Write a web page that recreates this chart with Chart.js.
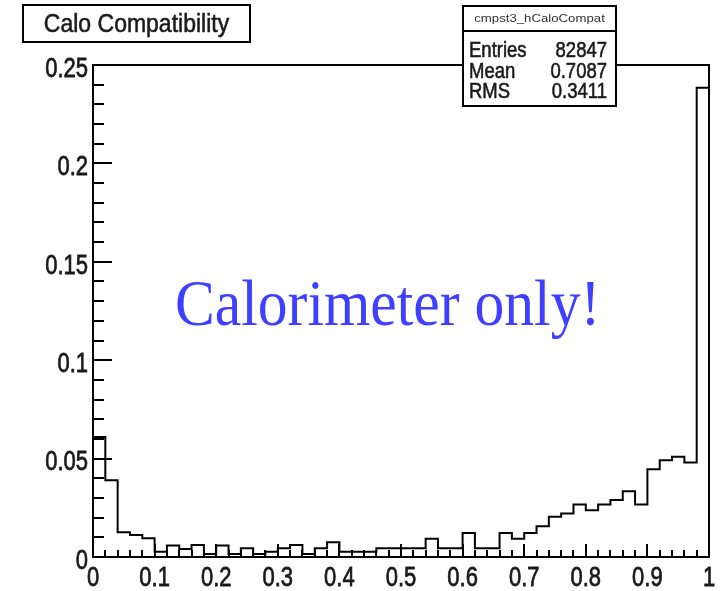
<!DOCTYPE html>
<html>
<head>
<meta charset="utf-8">
<script src="https://cdn.jsdelivr.net/npm/chart.js@4/dist/chart.umd.min.js"></script>
<style>
  html, body { margin: 0; padding: 0; background: #ffffff; }
  canvas { display: block; }
</style>
</head>
<body>
<canvas id="hist" width="724" height="591"></canvas>
<script>
// Histogram contents: 50 equal bins on [0, 1], bin fractions
const binValues = [
  0.0610, 0.0390, 0.0126, 0.0112, 0.0095, 0.0027, 0.0058, 0.0041, 0.0061, 0.0015,
  0.0058, 0.0015, 0.0044, 0.0015, 0.0027, 0.0044, 0.0061, 0.0015, 0.0044, 0.0075,
  0.0027, 0.0027, 0.0027, 0.0044, 0.0044, 0.0044, 0.0044, 0.0093, 0.0044, 0.0044,
  0.0122, 0.0044, 0.0044, 0.0122, 0.0093, 0.0122, 0.0156, 0.0204, 0.0221, 0.0267,
  0.0238, 0.0267, 0.0289, 0.0334, 0.0267, 0.0446, 0.0492, 0.0509, 0.0480, 0.2385
];
const xMin = 0;
const xMax = 1;
const yMin = 0;
const yMax = 0.25;

const xTickValues = [0, 0.1, 0.2, 0.3, 0.4, 0.5, 0.6, 0.7, 0.8, 0.9, 1];
const xTickLabels = ['0', '0.1', '0.2', '0.3', '0.4', '0.5', '0.6', '0.7', '0.8', '0.9', '1'];
const yTickValues = [0, 0.05, 0.1, 0.15, 0.2, 0.25];
const yTickLabels = ['0', '0.05', '0.1', '0.15', '0.2', '0.25'];
const xMinorStep = 0.02;
const yMinorStep = 0.01;

const histTitle = 'Calo Compatibility';
const histName = 'cmpst3_hCaloCompat';
const statsLabels = ['Entries', 'Mean', 'RMS'];
const statsValues = ['82847', '0.7087', '0.3411'];
const noteText = 'Calorimeter only!';

// Outline of the histogram as a step path: up the left edge, across each bin, down the right edge
const binWidth = (xMax - xMin) / binValues.length;
const outline = [{ x: xMin, y: 0 }];
binValues.forEach((v, i) => outline.push({ x: xMin + i * binWidth, y: v }));
outline.push({ x: xMax, y: 0 });

const SANS = '"Liberation Sans", Arial, Helvetica, sans-serif';
const SERIF = '"Liberation Serif", "Times New Roman", serif';

function drawText(ctx, text, x, y, opts) {
  ctx.save();
  ctx.translate(x, y);
  ctx.scale(opts.sx || 1, opts.sy || 1);
  ctx.font = opts.font;
  ctx.fillStyle = opts.color || '#111';
  ctx.textAlign = opts.align || 'left';
  ctx.textBaseline = opts.baseline || 'alphabetic';
  ctx.fillText(text, 0, 0);
  if (opts.heavy) {
    ctx.strokeStyle = opts.color || '#111';
    ctx.lineWidth = opts.heavy;
    ctx.strokeText(text, 0, 0);
  }
  ctx.restore();
}

// Frame, inward ticks and tick labels in the classic physics-plot style
const framePlugin = {
  id: 'frameAxes',
  afterDatasetsDraw(chart) {
    const ctx = chart.ctx;
    const a = chart.chartArea;
    const xs = chart.scales.x, ys = chart.scales.y;
    ctx.save();
    ctx.strokeStyle = '#000';
    ctx.lineWidth = 2;
    ctx.strokeRect(a.left, a.top, a.right - a.left, a.bottom - a.top);

    ctx.beginPath();
    // y axis ticks
    const nY = Math.round((yMax - yMin) / yMinorStep);
    for (let i = 0; i <= nY; i++) {
      const v = yMin + i * yMinorStep;
      const py = Math.round(ys.getPixelForValue(v));
      const major = i % 5 === 0;
      ctx.moveTo(a.left, py);
      ctx.lineTo(a.left + (major ? 19 : 11), py);
    }
    // x axis ticks
    const nX = Math.round((xMax - xMin) / xMinorStep);
    for (let i = 0; i <= nX; i++) {
      const v = xMin + i * xMinorStep;
      const px = Math.round(xs.getPixelForValue(v));
      const major = i % 5 === 0;
      ctx.moveTo(px, a.bottom);
      ctx.lineTo(px, a.bottom - (major ? 13 : 7));
    }
    ctx.stroke();
    ctx.restore();

    yTickValues.forEach((v, i) => {
      drawText(ctx, yTickLabels[i], a.left - 5, ys.getPixelForValue(v) + 4,
        { font: '22px ' + SANS, sy: 1.28, align: 'right', baseline: 'middle', color: '#1a1a1a', heavy: 0.6 });
    });
    xTickValues.forEach((v, i) => {
      drawText(ctx, xTickLabels[i], xs.getPixelForValue(v), a.bottom + 21,
        { font: '22px ' + SANS, sy: 1.28, align: 'center', baseline: 'middle', color: '#1a1a1a', heavy: 0.6 });
    });
  },
  afterDraw(chart) {
    const ctx = chart.ctx;

    // title box
    ctx.save();
    ctx.fillStyle = '#fff';
    ctx.strokeStyle = '#000';
    ctx.lineWidth = 2;
    ctx.fillRect(23, 5, 227, 37);
    ctx.strokeRect(23, 5, 227, 37);
    ctx.restore();
    drawText(ctx, histTitle, 136.5, 32, { font: '23px ' + SANS, sy: 1.1, align: 'center', color: '#1a1a1a', heavy: 0.5 });

    // statistics box
    const bx = 463, by = 6, bw = 153, bh = 100;
    ctx.save();
    ctx.fillStyle = '#fff';
    ctx.strokeStyle = '#000';
    ctx.lineWidth = 2;
    ctx.fillRect(bx, by, bw, bh);
    ctx.strokeRect(bx, by, bw, bh);
    ctx.beginPath();
    ctx.moveTo(bx, 31);
    ctx.lineTo(bx + bw, 31);
    ctx.stroke();
    ctx.restore();
    drawText(ctx, histName, bx + bw / 2, 19, { font: '11px ' + SANS, sx: 1.2, sy: 0.95, align: 'center', baseline: 'middle', color: '#333' });
    const rowY = [51, 72, 92];
    statsLabels.forEach((lab, i) => {
      drawText(ctx, lab, 469, rowY[i], { font: '18.5px ' + SANS, sy: 1.15, baseline: 'middle', color: '#1a1a1a', heavy: 0.5 });
      drawText(ctx, statsValues[i], 607, rowY[i], { font: '18.5px ' + SANS, sy: 1.15, align: 'right', baseline: 'middle', color: '#1a1a1a', heavy: 0.5 });
    });

    // annotation
    drawText(ctx, noteText, 175, 325, { font: '59.6px ' + SERIF, sy: 1.1, color: '#3f3fff' });
  }
};

new Chart(document.getElementById('hist'), {
  type: 'line',
  data: {
    datasets: [{
      data: outline,
      stepped: 'before',
      borderColor: '#000',
      borderWidth: 2,
      pointRadius: 0,
      fill: false,
      tension: 0
    }]
  },
  options: {
    responsive: false,
    animation: false,
    devicePixelRatio: 1,
    layout: { padding: { left: 93, right: 15, top: 65, bottom: 34 } },
    plugins: { legend: { display: false }, tooltip: { enabled: false }, title: { display: false } },
    scales: {
      x: { type: 'linear', min: xMin, max: xMax, display: false },
      y: { type: 'linear', min: yMin, max: yMax, display: false }
    }
  },
  plugins: [framePlugin]
});
</script>
</body>
</html>
